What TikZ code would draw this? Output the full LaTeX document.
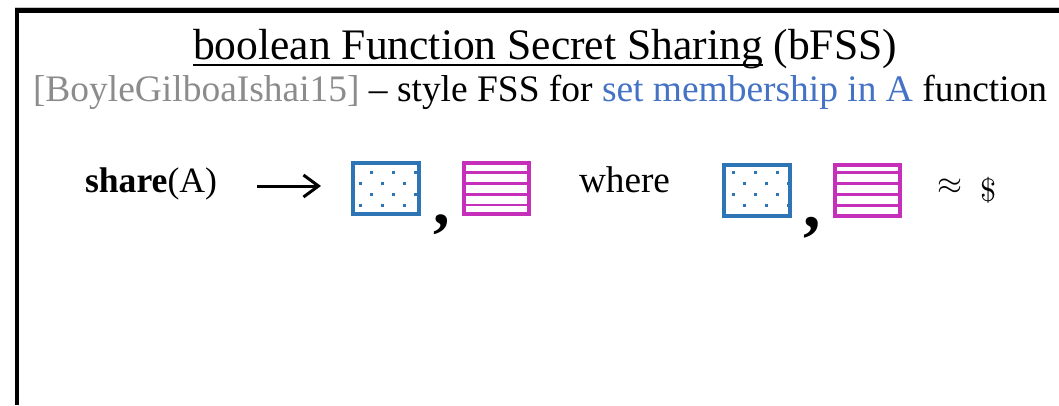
\documentclass[tikz,border=0pt]{standalone}
\usepackage{fontspec}
\setmainfont{Liberation Serif}
\usepackage{graphicx}
\usetikzlibrary{arrows.meta}
\definecolor{shareblue}{HTML}{2E75B6}
\definecolor{sharemag}{HTML}{C62FB9}
\definecolor{refgray}{HTML}{8C8C8C}
\definecolor{hiblue}{HTML}{4472C4}
\begin{document}
\begin{tikzpicture}[x=1pt,y=-1pt,
  txt/.style={anchor=base west, inner sep=0pt, outer sep=0pt},
  dotbox/.style={draw=shareblue, line width=4pt, minimum width=66pt, minimum height=51pt, inner sep=0pt},
  stripebox/.style={draw=sharemag, line width=4pt, minimum width=65pt, minimum height=51pt, inner sep=0pt},
  stripe/.style={sharemag, line width=2.8pt},
  sharedot/.style={fill=shareblue},
  arr/.style={line width=3pt, -{Straight Barb[length=15pt,width=22pt,line width=3pt]}},
  frameline/.style={line width=4.5pt, black}]
\useasboundingbox (0,0) rectangle (1059,405);

% slide frame
\draw[refgray!50, line width=1pt] (15,7) -- (1059,7);
\draw[frameline] (17,405) -- (17,10.5) -- (1059,10.5);

% heading lines
\node[txt] (title) at (193,59)
  {\resizebox{704pt}{!}{\underline{\smash{boolean Function Secret Sharing}} (bFSS)}};
\node[txt] (cite) at (33,101)
  {\resizebox{1014pt}{!}{\textcolor{refgray}{[BoyleGilboaIshai15]} – style FSS for \textcolor{hiblue}{set membership in A} function}};

% share(A) -> two shares
\node[txt] (share) at (85,192) {\resizebox{132pt}{!}{\textbf{share}(A)}};
\coordinate (a0) at (257,186);
\coordinate (a1) at (321,186);
\draw[arr] (a0) -- (a1);

% first pair of shares
\foreach \y in {172.7,194.3} \foreach \x in {371,393,415}
  \fill[sharedot] (\x-1.5,\y-1.5) rectangle ++(3,3);
\foreach \y in {183.5,205} \foreach \x in {360,382,404}
  \fill[sharedot] (\x-1.5,\y-1.5) rectangle ++(3,3);
\node[dotbox] (b1) at (386,188.5) {};
\node[anchor=north west, inner sep=0pt] (c1) at (433,215)
  {\resizebox*{!}{20pt}{\bfseries ,}};
\foreach \y in {172.7,183.5,194.3,205}
  \draw[stripe] (462,\y) -- (531,\y);
\node[stripebox] (m1) at (496.5,188.5) {};

\node[txt] (where) at (579,192) {\resizebox{91pt}{!}{where}};

% second pair of shares
\foreach \y in {172,194} \foreach \x in {733,755,777}
  \fill[sharedot] (\x-1.5,\y-1.5) rectangle ++(3,3);
\foreach \y in {183,205} \foreach \x in {744,766,788}
  \fill[sharedot] (\x-1.5,\y-1.5) rectangle ++(3,3);
\node[dotbox] (b2) at (756.5,190) {};
\node[anchor=north west, inner sep=0pt] (c2) at (803,217)
  {\resizebox*{!}{21pt}{\bfseries ,}};
\foreach \y in {172.3,183.3,194.3,205.3}
  \draw[stripe] (833,\y) -- (902,\y);
\node[stripebox] (m2) at (867.5,190) {};

% indistinguishable from random
\node[inner sep=0pt] (approx) at (949.5,187) {\resizebox{25pt}{!}{$\approx$}};
\node[anchor=north west, inner sep=0pt] (rand) at (980,177) {\resizebox*{!}{26pt}{$\$$}};
\end{tikzpicture}
\end{document}
